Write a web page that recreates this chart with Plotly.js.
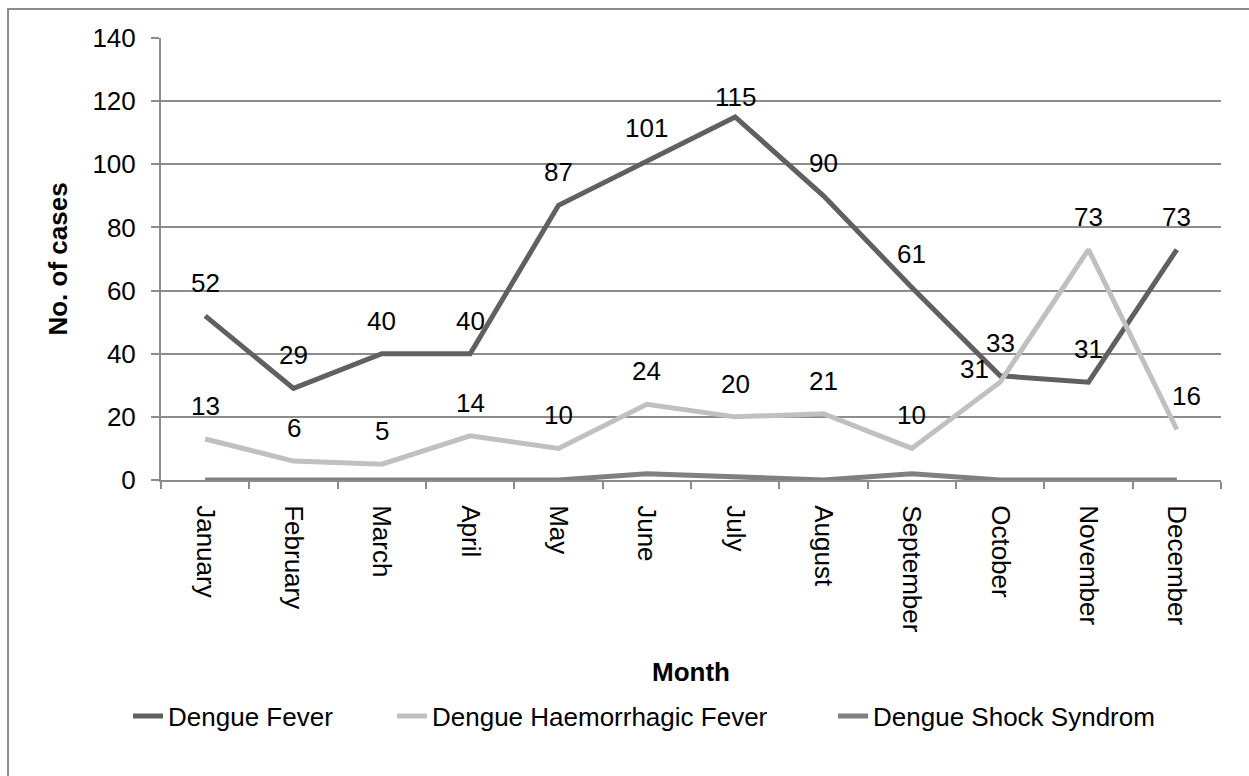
<!DOCTYPE html>
<html>
<head>
<meta charset="utf-8">
<script src="https://cdn.plot.ly/plotly-3.0.1.min.js"></script>
<style>html,body{margin:0;padding:0;background:#fff;}#chart{width:1249px;height:776px;}</style>
</head>
<body>
<div id="chart"></div>
<script>
const months = ["January","February","March","April","May","June","July","August","September","October","November","December"];
const dengueFever = [52,29,40,40,87,101,115,90,61,33,31,73];
const dengueHaemorrhagic = [13,6,5,14,10,24,20,21,10,31,73,16];
const dengueShock = [0,0,0,0,0,2,1,0,2,0,0,0];
const seriesNames = ["Dengue Fever","Dengue Haemorrhagic Fever","Dengue Shock Syndrom"];

const FONT = "Liberation Sans, Arial, sans-serif";
const colors = ["#606060","#c0c0c0","#808080"];
const legendIds = ["legend","legend2","legend3"];
const legendX = [-0.0311, 0.2179, 0.634];

const traces = [dengueFever, dengueHaemorrhagic, dengueShock].map((vals, i) => ({
  type: "scatter", mode: "lines", x: months, y: vals, name: seriesNames[i],
  legend: legendIds[i],
  line: {color: colors[i], width: 5}, hoverinfo: "skip"
}));

// label placement tweaks (pixel shifts), keyed by series/month index
const labelShift = {"0-6": [0, 20], "1-9": [-26, 13], "1-11": [10, 33]};
const annotations = [];
[dengueFever, dengueHaemorrhagic].forEach((vals, s) => {
  vals.forEach((v, i) => {
    const sh = labelShift[s + "-" + i] || [0, 33];
    annotations.push({x: months[i], y: v, xref: "x", yref: "y", text: String(v), showarrow: false,
      xshift: sh[0], yshift: sh[1], font: {family: FONT, size: 26, color: "#000"}});
  });
});

const layout = {
  width: 1249, height: 776,
  margin: {l: 161, r: 28, t: 38, b: 296, autoexpand: false},
  paper_bgcolor: "#fff", plot_bgcolor: "#fff",
  font: {family: FONT, size: 26, color: "#000"},
  showlegend: true,
  xaxis: {type: "category", range: [-0.5, 11.5], automargin: false, showgrid: false, showline: true,
    linecolor: "#8c8c8c", linewidth: 2,
    ticks: "outside", tickson: "boundaries", ticklen: 7, tickcolor: "#8c8c8c", tickwidth: 2,
    tickangle: 90, ticklabelstandoff: 18, tickfont: {family: FONT, size: 26},
    title: {text: "<b>Month</b>", font: {family: FONT, size: 26}, standoff: 31},
    fixedrange: true},
  yaxis: {range: [0, 140], dtick: 20, automargin: false, showgrid: true, gridcolor: "#8c8c8c", gridwidth: 2,
    showline: true, linecolor: "#8c8c8c", linewidth: 2, zeroline: false,
    ticks: "outside", ticklen: 8, tickcolor: "#8c8c8c", tickwidth: 2, ticklabelstandoff: 10,
    tickfont: {family: FONT, size: 26},
    title: {text: "<b>No. of cases</b>", font: {family: FONT, size: 26}, standoff: 17},
    fixedrange: true},
  annotations: annotations,
  shapes: [{type: "rect", xref: "paper", yref: "paper", x0: -0.1443, x1: 1.2, y0: -1, y1: 1.0656,
    line: {color: "#8c8c8c", width: 2}, fillcolor: "rgba(0,0,0,0)", layer: "below"}]
};
legendIds.forEach((id, i) => {
  layout[id] = {orientation: "h", x: legendX[i], xanchor: "left", y: -0.534, yanchor: "middle",
    font: {family: FONT, size: 26, color: "#000"}, bgcolor: "rgba(0,0,0,0)"};
});

Plotly.newPlot("chart", traces, layout, {displayModeBar: false, staticPlot: true});
</script>
</body>
</html>
